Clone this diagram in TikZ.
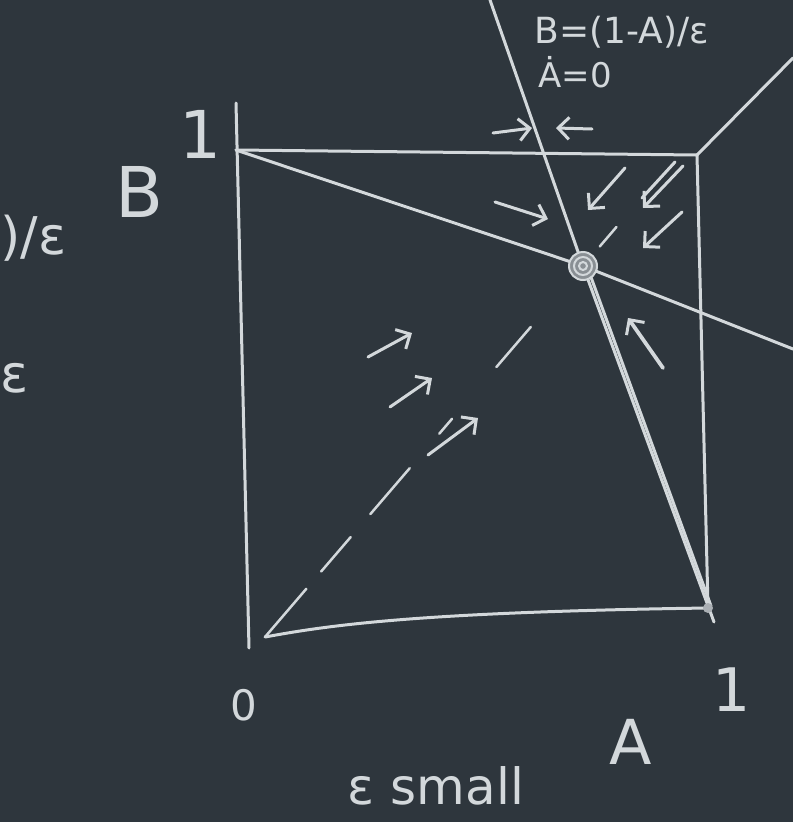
\documentclass[tikz,border=0pt]{standalone}
\usepackage{amsmath}
\usepackage{fontspec}
\setmainfont{DejaVu Sans}
\usetikzlibrary{arrows.meta, positioning, calc}
\definecolor{board}{HTML}{2E363D}
\definecolor{chalk}{HTML}{D3D8DB}
\tikzset{
  chalkline/.style={draw=chalk, line width=3pt, line cap=round, line join=round},
  flow/.style={chalkline, -{Straight Barb[length=11pt, width=22pt, line width=3pt]}},
  lbl/.style={text=chalk, inner sep=0pt},
}
\newcommand{\fsz}[1]{\fontsize{#1}{#1}\selectfont}

\begin{document}
\begin{tikzpicture}[x=1pt, y=-1pt]
\fill[board] (0,0) rectangle (793,822);
\clip (0,0) rectangle (793,822);
% corners and fixed point
\coordinate (O) at (265,637);
\coordinate (Aone) at (708,608);
\coordinate (Bone) at (236,150);
\coordinate (C) at (697,155);
\coordinate (P) at (583,266);
% the square
\draw[chalkline] (236,103) -- (249,648);
\draw[chalkline] (Bone) -- (C) -- (Aone);
\draw[chalkline] (O) .. controls (330,625) and (420,612) .. (Aone);
% nullclines
\draw[chalkline] (490,0) -- (P) -- (714,622);
\draw[chalkline] ($(P)+(5,3)$) -- (711,606);
\draw[chalkline] (Bone) .. controls (400,205) and (500,238) .. (P) -- (793,349);
\draw[chalkline] (C) -- (793,58);
% diagonal, broken chalk strokes
\foreach \a/\b in {260/302, 317/347, 367/407, 437/450, 495/530, 600/617}
  \draw[chalkline, line width=2.5pt] ($(O)!{(\a-260)/(583-260)}!(P)$) -- ($(O)!{(\b-260)/(583-260)}!(P)$);
% fixed points
\fill[chalk!55!board] (P) circle (14pt);
\draw[chalk, line width=2pt] (P) circle (14pt) (P) circle (9pt) (P) circle (4pt);
\fill[chalk!75!board] (Aone) circle (5pt);
% flow arrows
\draw[flow] (493,133) -- (532,128);
\draw[flow] (592,129) -- (556,128);
\draw[flow] (495,202) -- (548,219);
\draw[flow] (625,168) -- (588,210);
\draw[flow] (683,166) -- (643,208);
\draw[chalkline] (675,162) -- (642,198);
\draw[flow] (682,212) -- (643,248);
\draw[flow, line width=3.8pt] (663,368) -- (628,318);
\draw[flow] (368,357) -- (412,333);
\draw[flow] (390,407) -- (432,378);
\draw[flow] (428,455) -- (478,418);
% labels
\node[lbl, font=\fsz{36}] (nullB) at (622,32) {B=(1-A)/ε};
\node[lbl, font=\fsz{34}] (nullA) at (575,72) {Ȧ=0};
\node[lbl, font=\fsz{66}] (tickB) at (200,134) {1};
\node[lbl, font=\fsz{70}] (axisB) at (140,192) {B};
\node[lbl, font=\fsz{52}, anchor=west] (leftA) at (0,238) {)/ε};
\node[lbl, font=\fsz{52}, anchor=west] (leftB) at (0,378) {ε};
\node[lbl, font=\fsz{42}] (zero) at (244,705) {0};
\node[lbl, font=\fsz{60}] (tickA) at (732,690) {1};
\node[lbl, font=\fsz{62}] (axisA) at (631,742) {A};
\node[lbl, font=\fsz{50}] (eps) at (436,786) {ε small};
\end{tikzpicture}
\end{document}
